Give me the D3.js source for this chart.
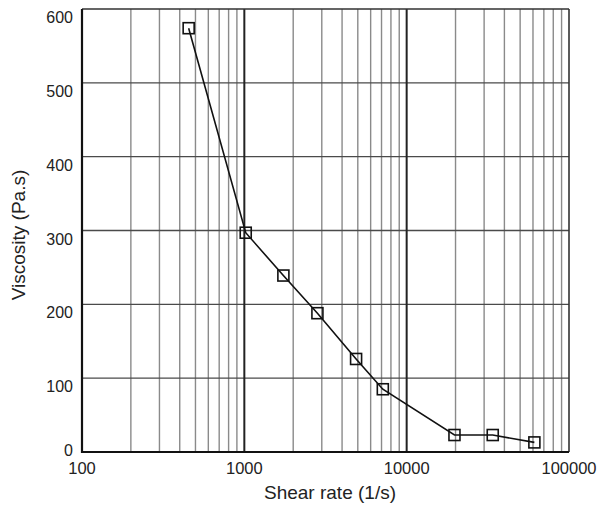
<!DOCTYPE html>
<html>
<head>
<meta charset="utf-8">
<script src="https://cdn.jsdelivr.net/npm/d3@7"></script>
<style>
  body { margin: 0; background: #fff; }
  svg text { font-family: "Liberation Sans", Arial, sans-serif; fill: #222; }
</style>
</head>
<body>
<svg id="chart" width="598" height="509"></svg>
<script>
'use strict';

// shear rate (1/s) vs viscosity (Pa.s)
const shearRate = [454, 1020, 1740, 2820, 4880, 7130, 19700, 33900, 61200];
const viscosity = [574, 297, 239, 188, 126, 85, 23, 23, 13];

const xTicks = [100, 1000, 10000, 100000];
const yTicks = [0, 100, 200, 300, 400, 500, 600];

const svg = d3.select('#chart');

const x = d3.scaleLog().domain([100, 100000]).range([82, 569]);
const y = d3.scaleLinear().domain([0, 600]).range([452, 9]);

// minor log grid: 2..9 in each decade
const minor = [];
[100, 1000, 10000].forEach(d => {
  for (let k = 2; k <= 9; k++) minor.push(d * k);
});

const grid = svg.append('g');

grid.selectAll('.vminor')
  .data(minor)
  .enter().append('line')
  .attr('x1', d => x(d)).attr('x2', d => x(d))
  .attr('y1', y(0)).attr('y2', y(600))
  .attr('stroke', '#8a8a8a').attr('stroke-width', 1.4);

grid.selectAll('.hgrid')
  .data(yTicks.slice(1, -1))
  .enter().append('line')
  .attr('x1', x(100)).attr('x2', x(100000))
  .attr('y1', d => y(d)).attr('y2', d => y(d))
  .attr('stroke', '#4a4a4a').attr('stroke-width', 1.4);

grid.selectAll('.vmajor')
  .data([1000, 10000])
  .enter().append('line')
  .attr('x1', d => x(d)).attr('x2', d => x(d))
  .attr('y1', y(0)).attr('y2', y(600))
  .attr('stroke', '#222').attr('stroke-width', 2);

// frame: heavy left/bottom, lighter top/right
svg.append('path')
  .attr('d', `M${x(100000)},${y(600)}H${x(100)}M${x(100000)},${y(0)}V${y(600)}`)
  .attr('stroke', '#333').attr('stroke-width', 1.6).attr('fill', 'none');
svg.append('path')
  .attr('d', `M${x(100)},${y(600)}V${y(0)}H${x(100000)}`)
  .attr('stroke', '#111').attr('stroke-width', 2.2).attr('fill', 'none');

// tick labels
svg.selectAll('.xlab')
  .data(xTicks)
  .enter().append('text')
  .attr('x', d => x(d)).attr('y', 474)
  .attr('text-anchor', 'middle')
  .attr('font-size', 16.5)
  .text(d => d);

svg.selectAll('.ylab')
  .data(yTicks)
  .enter().append('text')
  .attr('x', 73).attr('y', d => y(d) + (d === 0 ? 4 : 14))
  .attr('text-anchor', 'end')
  .attr('font-size', 16)
  .text(d => d);

// axis titles
svg.append('text')
  .attr('x', 330).attr('y', 499)
  .attr('text-anchor', 'middle')
  .attr('font-size', 19)
  .text('Shear rate (1/s)');

svg.append('text')
  .attr('transform', 'translate(25,235) rotate(-90)')
  .attr('text-anchor', 'middle')
  .attr('font-size', 19)
  .text('Viscosity (Pa.s)');

// data line + open square markers
const pts = shearRate.map((s, i) => [s, viscosity[i]]);

svg.append('path')
  .datum(pts)
  .attr('d', d3.line().x(d => x(d[0])).y(d => y(d[1])))
  .attr('fill', 'none').attr('stroke', '#111').attr('stroke-width', 1.6);

const S = 11;
svg.selectAll('.mk')
  .data(pts)
  .enter().append('rect')
  .attr('x', d => x(d[0]) - S / 2).attr('y', d => y(d[1]) - S / 2)
  .attr('width', S).attr('height', S)
  .attr('fill', 'none').attr('stroke', '#111').attr('stroke-width', 1.6);
</script>
</body>
</html>
